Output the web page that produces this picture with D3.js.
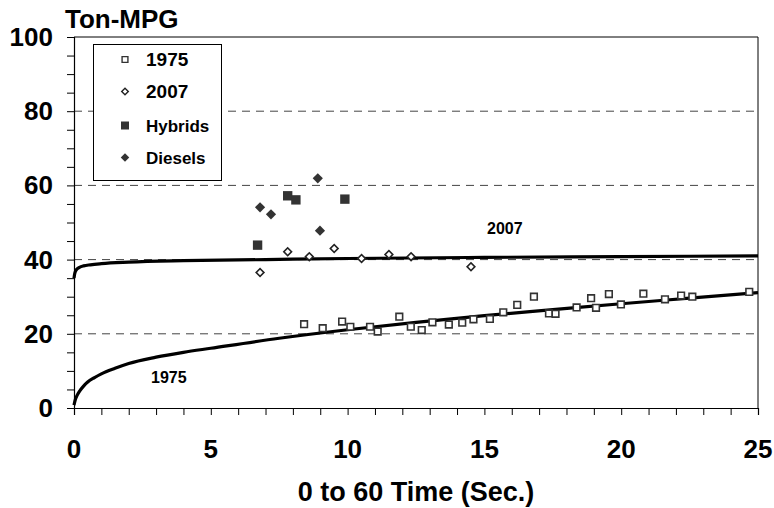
<!DOCTYPE html>
<html>
<head>
<meta charset="utf-8">
<script src="https://cdn.jsdelivr.net/npm/d3@7"></script>
<style>
  body { margin: 0; background: #fff; }
  svg { display: block; font-family: "Liberation Sans", Arial, sans-serif; font-weight: bold; }
</style>
</head>
<body>
<svg width="774" height="508"></svg>
<script>
// scatter data: [time, ton-mpg]
var cars1975 = [[8.41,22.6],[9.09,21.5],[9.80,23.3],[10.10,21.9],[10.82,21.9],[11.10,20.6],
  [11.89,24.6],[12.31,21.9],[12.71,21.0],[13.10,23.1],[13.70,22.5],[14.19,23.0],[14.60,23.9],
  [15.20,24.0],[15.69,25.8],[16.20,27.8],[16.81,30.0],[17.36,25.5],[17.60,25.4],[18.37,27.1],
  [18.90,29.6],[19.08,27.0],[19.55,30.7],[19.99,27.9],[20.81,30.8],[21.60,29.3],[22.19,30.3],
  [22.60,30.0],[24.68,31.3]];
var cars2007 = [[6.80,36.5],[7.81,42.1],[8.60,40.8],[9.51,43.0],[10.51,40.3],[11.51,41.4],
  [12.32,40.8],[14.51,38.1]];
var hybrids = [[6.71,43.9],[7.81,57.2],[8.11,56.1],[9.90,56.3]];
var diesels = [[6.80,54.1],[7.20,52.2],[8.91,61.9],[8.99,47.8]];

// trend curves
var curve1975 = [[0,0.8],[0.05,2.3],[0.1,3.2],[0.2,4.5],[0.35,5.9],[0.5,7.0],[0.75,8.2],[1,9.2],
  [1.5,10.7],[2,12.0],[3,13.7],[4,15.0],[5,16.1],[7.5,18.8],[10,21.1],[12.5,23.1],[15,24.9],
  [17.5,26.5],[20,28.1],[22.5,29.6],[25,31.1]];
var curve2007 = [[0,35.0],[0.02,36.0],[0.05,36.8],[0.1,37.4],[0.2,37.9],[0.35,38.3],[0.6,38.6],
  [1,38.9],[2,39.3],[4,39.7],[7,40.0],[10,40.3],[15,40.6],[20,40.8],[25,41.0]];

var yTicks = [0, 20, 40, 60, 80, 100];
var xTicks = [0, 5, 10, 15, 20, 25];
var gridVals = [20, 40, 60, 80];

var svg = d3.select("svg");
var pL = 74, pR = 758, pT = 37, pB = 408;

var x = d3.scaleLinear().domain([0, 25]).range([pL, pR]);
var y = d3.scaleLinear().domain([0, 100]).range([pB, pT]);

// dashed grid
svg.append("g").selectAll("line").data(gridVals).enter().append("line")
  .attr("x1", pL).attr("x2", pR)
  .attr("y1", function(d){ return y(d); }).attr("y2", function(d){ return y(d); })
  .attr("stroke", "#444").attr("stroke-width", 1).attr("stroke-dasharray", "8,6");

// frame top/right
svg.append("line").attr("x1", pL).attr("x2", pR).attr("y1", pT).attr("y2", pT).attr("stroke", "#000");
svg.append("line").attr("x1", pR).attr("x2", pR).attr("y1", pT).attr("y2", pB).attr("stroke", "#000");

// axes
svg.append("g").attr("transform", "translate(" + pL + ",0)")
  .call(d3.axisLeft(y).tickValues(d3.range(0, 101, 5)).tickSize(7).tickFormat(""));
svg.append("g").attr("transform", "translate(0," + pB + ")")
  .call(d3.axisBottom(x).tickValues(d3.range(0, 26, 1)).tickSize(7).tickFormat(""));
svg.selectAll(".domain").attr("stroke", "#000").attr("stroke-width", 1.2);
svg.selectAll(".tick line").attr("stroke", "#000");

svg.append("g").selectAll("text").data(yTicks).enter().append("text")
  .attr("x", 53).attr("y", function(d){ return y(d) + 9; })
  .attr("text-anchor", "end").attr("font-size", 26).text(function(d){ return d; });
svg.append("g").selectAll("text").data(xTicks).enter().append("text")
  .attr("x", function(d){ return x(d); }).attr("y", 458)
  .attr("text-anchor", "middle").attr("font-size", 26).text(function(d){ return d; });

svg.append("text").attr("x", 65).attr("y", 28).attr("font-size", 26).text("Ton-MPG");
svg.append("text").attr("x", 416).attr("y", 501).attr("text-anchor", "middle").attr("font-size", 27).text("0 to 60 Time (Sec.)");

// curves
var line = d3.line().x(function(d){ return x(d[0]); }).y(function(d){ return y(d[1]); }).curve(d3.curveMonotoneX);
[curve1975, curve2007].forEach(function(c){
  svg.append("path").datum(c).attr("d", line).attr("fill", "none").attr("stroke", "#000").attr("stroke-width", 3.2);
});
svg.append("text").attr("x", 487).attr("y", 234).attr("font-size", 16).text("2007");
svg.append("text").attr("x", 151).attr("y", 383).attr("font-size", 16).text("1975");

// markers (diamonds are squares turned 45 degrees)
function marker(kind, size) {
  return d3.symbol().type(d3.symbolSquare).size(kind === "dia" ? size / 2 : size)();
}
var sym = {
  sqOpen:  { kind: "sq",  size: 44, fill: "#fff", stroke: "#333" },
  diaOpen: { kind: "dia", size: 60, fill: "#fff", stroke: "#222" },
  sqFill:  { kind: "sq",  size: 88, fill: "#333", stroke: "none" },
  diaFill: { kind: "dia", size: 104, fill: "#333", stroke: "none" }
};
function plot(data, s) {
  svg.append("g").selectAll("path").data(data).enter().append("path")
    .attr("transform", function(d){
      return "translate(" + x(d[0]) + "," + y(d[1]) + ")" + (s.kind === "dia" ? " rotate(45)" : "");
    })
    .attr("d", marker(s.kind, s.size))
    .attr("fill", s.fill).attr("stroke", s.stroke).attr("stroke-width", 1.6);
}
plot(cars1975, sym.sqOpen);
plot(cars2007, sym.diaOpen);
plot(hybrids, sym.sqFill);
plot(diesels, sym.diaFill);

// legend
var leg = svg.append("g");
leg.append("rect").attr("x", 93.5).attr("y", 44.5).attr("width", 128).attr("height", 136)
  .attr("fill", "#fff").attr("stroke", "#000");
var legItems = [
  { label: "1975", s: { kind: "sq", size: 34, fill: "#fff", stroke: "#333" }, cy: 59.5, fs: 19 },
  { label: "2007", s: { kind: "dia", size: 44, fill: "#fff", stroke: "#222" }, cy: 91.5, fs: 19 },
  { label: "Hybrids", s: { kind: "sq", size: 64, fill: "#333", stroke: "none" }, cy: 125.5, fs: 17 },
  { label: "Diesels", s: { kind: "dia", size: 72, fill: "#333", stroke: "none" }, cy: 157.5, fs: 17 }
];
legItems.forEach(function(it){
  leg.append("path")
    .attr("transform", "translate(125," + it.cy + ")" + (it.s.kind === "dia" ? " rotate(45)" : ""))
    .attr("d", marker(it.s.kind, it.s.size))
    .attr("fill", it.s.fill).attr("stroke", it.s.stroke).attr("stroke-width", 1.4);
  leg.append("text").attr("x", 146).attr("y", it.cy + (it.fs === 19 ? 6.8 : 6.0))
    .attr("font-size", it.fs).text(it.label);
});
</script>
</body>
</html>
